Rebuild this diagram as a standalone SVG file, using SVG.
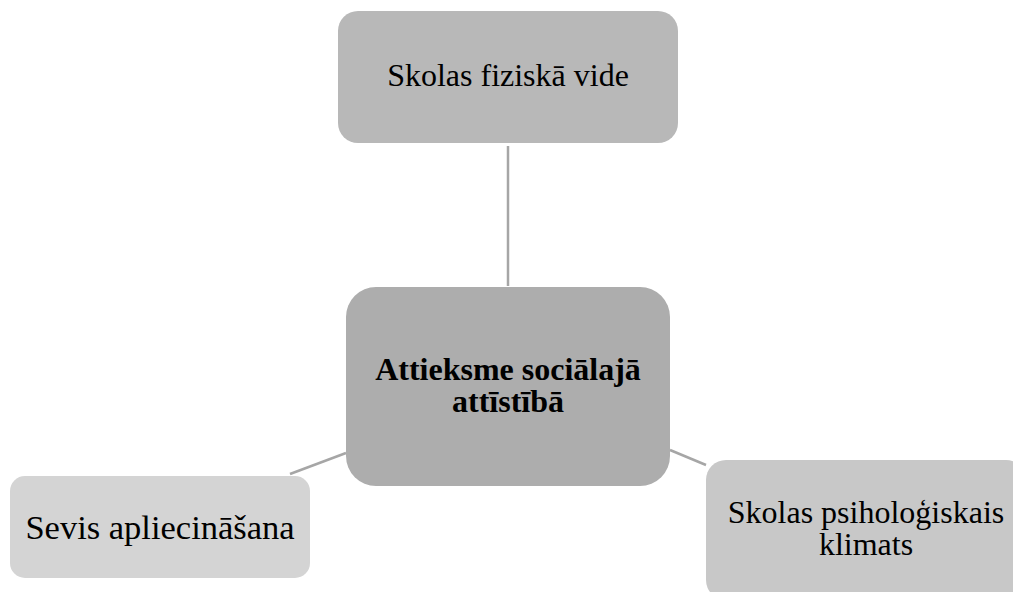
<svg xmlns="http://www.w3.org/2000/svg" width="1013" height="592" viewBox="0 0 1013 592">
<style>
.t{font-family:"Liberation Serif","Times New Roman",serif;font-size:32px;fill:#000;text-anchor:middle}
.b{font-weight:bold}
.l{font-size:34.5px}
.c{stroke:#a6a6a6;stroke-width:2.5;fill:none}
</style>
<rect width="1013" height="592" fill="#fff"/>
<g id="connectors">
<line class="c" x1="508" y1="146" x2="508" y2="286"/>
<line class="c" x1="346" y1="453" x2="290" y2="474"/>
<line class="c" x1="670" y1="450" x2="706" y2="465"/>
</g>
<g id="node-top">
<rect x="338" y="11" width="340" height="132" rx="20" fill="#b8b8b8"/>
<text class="t" x="508" y="86">Skolas fiziskā vide</text>
</g>
<g id="node-center">
<rect x="346" y="287" width="324" height="199" rx="30" fill="#adadad"/>
<text class="t b" x="508" y="380">Attieksme sociālajā</text>
<text class="t b" x="508" y="412">attīstībā</text>
</g>
<g id="node-left">
<rect x="10" y="476" width="300" height="102" rx="15" fill="#d4d4d4"/>
<text class="t l" x="160" y="539">Sevis apliecināšana</text>
</g>
<g id="node-right">
<rect x="706" y="460" width="320" height="140" rx="20" fill="#c8c8c8"/>
<text class="t" x="866" y="523">Skolas psiholoģiskais</text>
<text class="t" x="866" y="555">klimats</text>
</g>
</svg>
